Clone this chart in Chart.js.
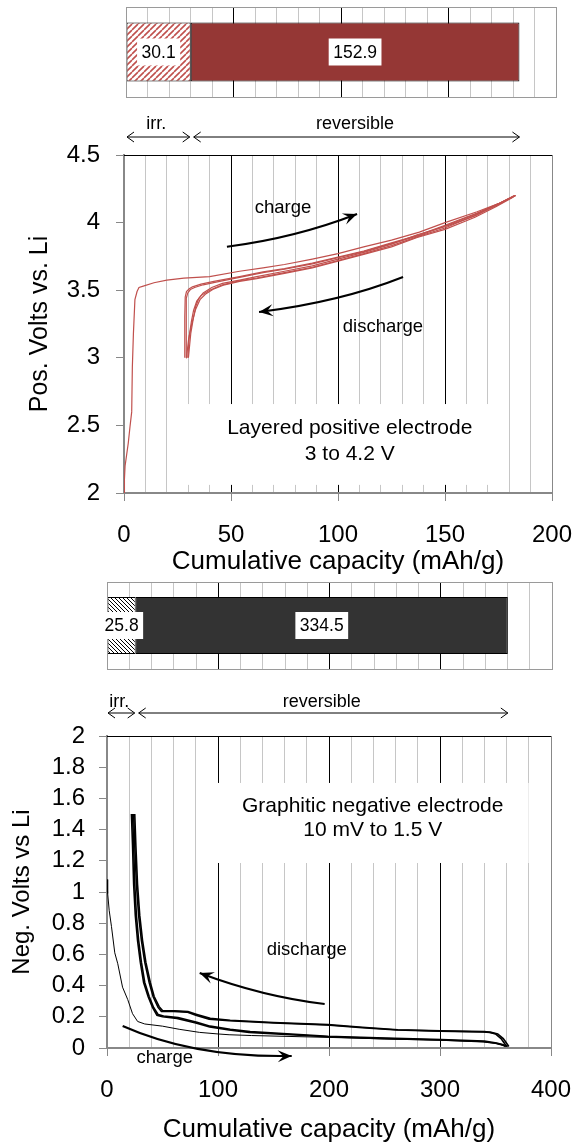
<!DOCTYPE html>
<html>
<head>
<meta charset="utf-8">
<script src="https://cdn.jsdelivr.net/npm/chart.js@4.4.1/dist/chart.umd.min.js"></script>
<style>
  html, body { margin: 0; padding: 0; background: #fff; }
  body { width: 576px; height: 1145px; position: relative; overflow: hidden; }
  .panel { position: absolute; left: 0; width: 576px; }
</style>
</head>
<body>
<div class="panel" style="top:0;height:145px"><canvas id="posBar"></canvas></div>
<div class="panel" style="top:145px;height:435px"><canvas id="posChart"></canvas></div>
<div class="panel" style="top:575px;height:145px"><canvas id="negBar"></canvas></div>
<div class="panel" style="top:720px;height:425px"><canvas id="negChart"></canvas></div>
<script>
const FONT = '"Liberation Sans", Arial, sans-serif';
Chart.defaults.font.family = FONT;
Chart.defaults.color = '#000';

// capacity split, mAh/g
const posIrr = [30.1];
const posRev = [152.9];
const negIrr = [25.8];
const negRev = [334.5];

// tick labels
const posXLabels = [0, 50, 100, 150, 200];
const posYLabels = [2, 2.5, 3, 3.5, 4, 4.5];
const negXLabels = [0, 100, 200, 300, 400];
const negYLabels = [0, 0.2, 0.4, 0.6, 0.8, 1, 1.2, 1.4, 1.6, 1.8, 2];

// positive electrode, first charge
const posC1X = [0, 0.2, 0.5, 2, 2.8, 3.6, 3.9, 4.4, 5.1, 6.1, 7, 9, 14, 20, 28, 40, 54, 65, 75, 88, 100, 112, 125, 138, 150, 165, 175, 183];
const posC1V = [2.0, 2.1, 2.2, 2.37, 2.49, 2.6, 2.93, 3.18, 3.43, 3.49, 3.52, 3.53, 3.555, 3.575, 3.59, 3.6, 3.64, 3.665, 3.69, 3.73, 3.77, 3.82, 3.87, 3.93, 4.0, 4.08, 4.14, 4.2];
// positive discharges
const posD1X = [183, 175, 165, 150, 138, 125, 112, 100, 88, 75, 62, 54, 46, 40, 36, 34, 32.5, 31.5, 30.5, 29.8];
const posD1V = [4.2, 4.14, 4.06, 3.96, 3.9, 3.83, 3.77, 3.72, 3.67, 3.63, 3.59, 3.57, 3.54, 3.5, 3.46, 3.42, 3.35, 3.27, 3.16, 3.0];
const posD2X = [182.5, 174, 164, 150, 137, 125, 112, 100, 88, 75, 62, 54, 46, 41, 37, 35, 33.5, 32.5, 31.2, 30.1];
const posD2V = [4.2, 4.13, 4.05, 3.97, 3.91, 3.84, 3.78, 3.73, 3.68, 3.64, 3.6, 3.575, 3.55, 3.52, 3.48, 3.44, 3.38, 3.3, 3.18, 3.0];
const posD3X = [182, 174, 164, 150, 137, 125, 112, 100, 88, 75, 62, 54, 47, 42, 38, 35.5, 33.5, 31.8, 30.2, 29.2];
const posD3V = [4.19, 4.12, 4.04, 3.95, 3.89, 3.82, 3.765, 3.715, 3.665, 3.625, 3.585, 3.565, 3.54, 3.51, 3.47, 3.43, 3.36, 3.26, 3.14, 3.0];
// positive recharges
const posC2X = [28.4, 28.4, 28.6, 29.2, 30.5, 32, 36, 42, 54, 65, 75, 88, 100, 112, 125, 138, 150, 165, 175, 182.5];
const posC2V = [3.0, 3.3, 3.45, 3.49, 3.51, 3.525, 3.545, 3.565, 3.6, 3.635, 3.66, 3.7, 3.745, 3.79, 3.85, 3.91, 3.98, 4.07, 4.14, 4.2];
const posC3X = [29.0, 29.0, 29.2, 29.8, 31, 33, 37, 43, 54, 65, 75, 88, 100, 112, 125, 138, 150, 165, 175, 183];
const posC3V = [3.0, 3.3, 3.44, 3.48, 3.505, 3.52, 3.54, 3.56, 3.595, 3.63, 3.655, 3.695, 3.74, 3.785, 3.845, 3.905, 3.975, 4.065, 4.135, 4.2];

// negative electrode, first charge
const negC1X = [0, 0.6, 2, 4, 7, 9.7, 14, 18.7, 23, 27.6, 34, 50, 65, 83.5, 100, 110, 130, 200, 250, 300, 339, 350, 356, 360];
const negC1V = [1.08, 0.99, 0.88, 0.78, 0.61, 0.54, 0.39, 0.31, 0.22, 0.17, 0.154, 0.14, 0.12, 0.1, 0.09, 0.085, 0.08, 0.068, 0.058, 0.05, 0.04, 0.03, 0.02, 0.01];
// negative discharges
const negD1X = [360, 358, 355, 350, 345, 339, 300, 261, 230, 198, 150, 110, 92, 80, 72, 60, 49, 46, 41.5, 38, 34, 31, 28.5, 26.5, 25, 24];
const negD1V = [0.01, 0.03, 0.06, 0.09, 0.1, 0.103, 0.108, 0.115, 0.13, 0.147, 0.16, 0.175, 0.185, 0.21, 0.23, 0.235, 0.235, 0.26, 0.33, 0.42, 0.55, 0.69, 0.85, 1.05, 1.3, 1.5];
const negD2X = [362, 360, 357, 352, 346, 340, 300, 262, 230, 199, 150, 111, 93, 81, 73, 61, 50, 47, 42.5, 39, 35, 32, 29.5, 27.5, 26, 25];
const negD2V = [0.01, 0.03, 0.06, 0.09, 0.1, 0.105, 0.11, 0.117, 0.133, 0.15, 0.163, 0.178, 0.19, 0.215, 0.233, 0.238, 0.24, 0.265, 0.33, 0.42, 0.55, 0.69, 0.85, 1.05, 1.3, 1.5];
// negative recharges
const negC2X = [22, 23, 24, 25.5, 27.5, 30, 33, 37, 41, 45, 50, 63, 80, 92.5, 110, 128, 198, 250, 300, 339, 350, 356, 359];
const negC2V = [1.5, 1.3, 1.05, 0.85, 0.69, 0.55, 0.42, 0.33, 0.26, 0.21, 0.2, 0.19, 0.16, 0.135, 0.115, 0.1, 0.072, 0.06, 0.051, 0.04, 0.03, 0.02, 0.01];
const negC3X = [23, 24, 25, 26.5, 28.5, 31, 34, 38, 42, 46, 51, 64, 81, 93, 111, 129, 199, 251, 301, 340, 351, 357, 361];
const negC3V = [1.5, 1.3, 1.05, 0.85, 0.69, 0.55, 0.42, 0.33, 0.26, 0.215, 0.205, 0.195, 0.165, 0.14, 0.12, 0.105, 0.075, 0.063, 0.054, 0.045, 0.032, 0.02, 0.01];

function hatch(color, size, forward, lw) {
    const c = document.createElement('canvas');
    c.width = c.height = size;
    const g = c.getContext('2d');
    g.fillStyle = '#fff';
    g.fillRect(0, 0, size, size);
    g.strokeStyle = color;
    g.lineWidth = lw;
    g.beginPath();
    for (let k = -1; k <= 1; k++) {
        if (forward) { g.moveTo(k * size, size); g.lineTo(k * size + size, 0); }
        else { g.moveTo(k * size, 0); g.lineTo(k * size + size, size); }
    }
    g.stroke();
    return g.createPattern(c, 'repeat');
}

function arrowHead(ctx, x, y, ang, len, half) {
    ctx.save();
    ctx.translate(x, y);
    ctx.rotate(ang);
    ctx.beginPath();
    ctx.moveTo(0, 0);
    ctx.lineTo(-len, -half);
    ctx.lineTo(-len * 0.6, 0);
    ctx.lineTo(-len, half);
    ctx.closePath();
    ctx.fill();
    ctx.restore();
}

function curvedArrow(ctx, p0, pc, p1) {
    ctx.beginPath();
    ctx.moveTo(p0[0], p0[1]);
    ctx.quadraticCurveTo(pc[0], pc[1], p1[0], p1[1]);
    ctx.stroke();
    arrowHead(ctx, p1[0], p1[1], Math.atan2(p1[1] - pc[1], p1[0] - pc[0]), 14, 6);
}

function doubleArrow(ctx, x1, x2, y) {
    ctx.beginPath();
    ctx.moveTo(x1, y); ctx.lineTo(x2, y);
    ctx.moveTo(x1 + 7, y - 5); ctx.lineTo(x1, y); ctx.lineTo(x1 + 7, y + 5);
    ctx.moveTo(x2 - 7, y - 5); ctx.lineTo(x2, y); ctx.lineTo(x2 - 7, y + 5);
    ctx.stroke();
}

function gridColor(v, major, max, edge) {
    if (v === 0) return edge;
    if (v === max) return edge || '#000';
    return v % major === 0 ? '#000' : '#c6c6c6';
}

function barPanel(id, irr, rev, o) {
    const el = document.getElementById(id);
    const decor = {
        id: 'barDecor',
        afterDraw(chart) {
            const { ctx, chartArea: a, scales: { x } } = chart;
            ctx.save();
            ctx.strokeStyle = '#9a9a9a';
            ctx.lineWidth = 1;
            ctx.strokeRect(Math.round(a.left) + 0.5, Math.round(a.top) + 0.5, Math.round(a.right - a.left), Math.round(a.bottom - a.top));
            ctx.font = '17.5px ' + FONT;
            ctx.textAlign = 'center';
            ctx.textBaseline = 'middle';
            chart.data.datasets.forEach((ds, i) => {
                const bar = chart.getDatasetMeta(i).data[0];
                const cx = (bar.x + bar.base) / 2;
                const txt = String(ds.data[0]);
                const w = ctx.measureText(txt).width + 9;
                ctx.fillStyle = '#fff';
                ctx.fillRect(cx - w / 2, bar.y - 13.5, w, 27);
                ctx.fillStyle = '#000';
                ctx.fillText(txt, cx, bar.y + 1);
            });
            // irreversible / reversible ranges
            const xi = x.getPixelForValue(irr[0]);
            const xr = x.getPixelForValue(irr[0] + rev[0]);
            const x0 = x.getPixelForValue(0);
            const ay = a.bottom + o.arrowGap;
            ctx.strokeStyle = '#000';
            ctx.lineWidth = 1;
            doubleArrow(ctx, x0 + 1, xi - 1, ay);
            doubleArrow(ctx, xi + 3, xr, ay);
            ctx.font = '18px ' + FONT;
            ctx.fillText('irr.', (x0 + xi) / 2 - 2, a.bottom + o.textGap);
            ctx.fillText('reversible', (xi + xr) / 2, a.bottom + o.textGap);
            ctx.restore();
        }
    };
    return new Chart(el, {
        type: 'bar',
        data: {
            labels: [''],
            datasets: [
                { data: irr, backgroundColor: o.hatch, borderColor: '#000', borderWidth: 1, borderSkipped: false, barPercentage: 0.656, categoryPercentage: 1 },
                { data: rev, backgroundColor: o.fill, borderColor: '#000', borderWidth: 1, borderSkipped: false, barPercentage: 0.656, categoryPercentage: 1 }
            ]
        },
        options: {
            indexAxis: 'y',
            responsive: true,
            maintainAspectRatio: false,
            animation: false,
            layout: { padding: o.pad },
            plugins: { legend: { display: false }, tooltip: { enabled: false } },
            scales: {
                x: {
                    stacked: true, min: 0, max: o.max,
                    ticks: { display: false, stepSize: o.minor, autoSkip: false },
                    grid: { drawTicks: false, color: c => gridColor(c.tick ? c.tick.value : 0, o.major, o.max, '#9a9a9a') },
                    border: { display: false },
                    afterFit: s => { s.height = 0; s.paddingLeft = 0; s.paddingRight = 0; }
                },
                y: { stacked: true, display: false }
            }
        },
        plugins: [decor]
    });
}

function pts(xs, ys) {
    return xs.map((v, i) => ({ x: v, y: ys[i] }));
}

function voltPanel(id, series, o) {
    const el = document.getElementById(id);
    const decor = {
        id: 'voltDecor',
        beforeDatasetsDraw(chart) {
            const { ctx, scales: { x, y } } = chart;
            ctx.save();
            const L = x.getPixelForValue(o.box.x[0]), R = x.getPixelForValue(o.box.x[1]);
            const T = y.getPixelForValue(o.box.y[0]), B = y.getPixelForValue(o.box.y[1]);
            ctx.fillStyle = '#fff';
            ctx.fillRect(L, T, R - L, B - T);
            ctx.fillStyle = '#000';
            ctx.font = '21px ' + FONT;
            ctx.textAlign = 'center';
            ctx.textBaseline = 'middle';
            o.box.text.forEach((t, i) => ctx.fillText(t, x.getPixelForValue(o.box.tx), y.getPixelForValue(o.box.ty[i])));
            ctx.restore();
        },
        afterDraw(chart) {
            const { ctx, chartArea: a, scales: { x, y } } = chart;
            const P = p => [x.getPixelForValue(p[0]), y.getPixelForValue(p[1])];
            ctx.save();
            ctx.strokeStyle = '#000';
            ctx.lineWidth = 1;
            ctx.beginPath();
            ctx.moveTo(a.left, Math.round(a.top) + 0.5);
            ctx.lineTo(a.right, Math.round(a.top) + 0.5);
            ctx.stroke();
            ctx.fillStyle = '#000';
            ctx.lineWidth = 2;
            o.arrows.forEach(ar => curvedArrow(ctx, P(ar[0]), P(ar[1]), P(ar[2])));
            ctx.font = '18.5px ' + FONT;
            ctx.textAlign = 'center';
            ctx.textBaseline = 'middle';
            o.notes.forEach(n => { const p = P(n.at); ctx.fillText(n.text, p[0], p[1]); });
            ctx.restore();
        }
    };
    const near = (list, v) => list.some(l => Math.abs(l - v) < 1e-6);
    return new Chart(el, {
        type: 'scatter',
        data: {
            datasets: series.map(s => ({
                data: pts(s.x, s.y), showLine: true, borderColor: s.color, borderWidth: s.w,
                pointRadius: 0, fill: false, tension: 0
            }))
        },
        options: {
            responsive: true,
            maintainAspectRatio: false,
            animation: false,
            layout: { padding: { top: o.top, right: o.right, left: 0, bottom: 0 } },
            plugins: { legend: { display: false }, tooltip: { enabled: false } },
            scales: {
                x: {
                    type: 'linear', min: 0, max: o.xMax,
                    ticks: {
                        stepSize: o.xMinor, autoSkip: false, maxRotation: 0, padding: 20,
                        font: { size: 24 },
                        callback: v => near(o.xLabels, v) ? String(v) : ''
                    },
                    grid: {
                        color: c => gridColor(c.tick ? c.tick.value : 0, o.xMajor, o.xMax, '#888'),
                        tickLength: 8,
                        tickColor: c => (c.tick && near(o.xLabels, c.tick.value)) ? '#888' : 'rgba(0,0,0,0)'
                    },
                    border: { color: '#888', width: 2 },
                    title: { display: true, text: 'Cumulative capacity (mAh/g)', font: { size: 26 }, padding: { top: 0, bottom: o.xTitlePad } },
                    afterFit: s => { s.height = o.xAxisH; s.paddingLeft = 0; s.paddingRight = 0; }
                },
                y: {
                    min: o.yMin, max: o.yMax,
                    ticks: {
                        stepSize: o.yStep, autoSkip: false, padding: o.yTickPad,
                        font: { size: 24 },
                        callback: v => near(o.yLabels, v) ? String(Math.round(v * 10) / 10) : ''
                    },
                    grid: { drawOnChartArea: false, tickLength: 8, color: '#888' },
                    border: { color: '#888', width: 2 },
                    title: { display: true, text: o.yTitle, font: { size: o.yTitleSize }, padding: { top: o.yTitlePad, bottom: 0 } },
                    afterFit: s => { s.width = o.yAxisW; s.paddingTop = 0; s.paddingBottom = 0; }
                }
            }
        },
        plugins: [decor]
    });
}

const posRed = '#c0504d';
barPanel('posBar', posIrr, posRev, {
    hatch: hatch(posRed, 6, true, 1.6), fill: '#953735',
    max: 200, minor: 10, major: 50,
    pad: { left: 126, right: 20, top: 7, bottom: 48 },
    arrowGap: 40, textGap: 27
});

voltPanel('posChart', [
    { x: posC1X, y: posC1V, color: posRed, w: 1.2 },
    { x: posD1X, y: posD1V, color: posRed, w: 1.2 },
    { x: posC2X, y: posC2V, color: posRed, w: 1.2 },
    { x: posD2X, y: posD2V, color: posRed, w: 1.2 },
    { x: posC3X, y: posC3V, color: posRed, w: 1.2 },
    { x: posD3X, y: posD3V, color: posRed, w: 1.2 }
], {
    top: 10, right: 24, xAxisH: 87, yAxisW: 124, xTitlePad: 2.4,
    xMax: 200, xMinor: 10, xMajor: 50, xLabels: posXLabels,
    yMin: 2, yMax: 4.5, yStep: 0.5, yLabels: posYLabels, yTickPad: 16,
    yTitle: 'Pos. Volts vs. Li', yTitleSize: 25, yTitlePad: 25,
    box: { x: [29.4, 179.4], y: [2.658, 2.06], tx: 105.5, ty: [2.48, 2.29],
           text: ['Layered positive electrode', '3 to 4.2 V'] },
    arrows: [
        [[48.1, 3.822], [79.9, 3.886], [108.9, 4.064]],
        [[130.4, 3.598], [100.9, 3.413], [63.1, 3.339]]
    ],
    notes: [
        { text: 'charge', at: [74.3, 4.108] },
        { text: 'discharge', at: [121.0, 3.228] }
    ]
});

barPanel('negBar', negIrr, negRev, {
    hatch: hatch('#000', 4, false, 1), fill: '#333333',
    max: 400, minor: 20, major: 100,
    pad: { left: 107, right: 24, top: 7, bottom: 51 },
    arrowGap: 44, textGap: 33
});

voltPanel('negChart', [
    { x: negC1X, y: negC1V, color: '#000', w: 1 },
    { x: negD1X, y: negD1V, color: '#000', w: 1.6 },
    { x: negC2X, y: negC2V, color: '#000', w: 1.6 },
    { x: negD2X, y: negD2V, color: '#000', w: 1.6 },
    { x: negC3X, y: negC3V, color: '#000', w: 1.6 }
], {
    top: 16, right: 25, xAxisH: 97, yAxisW: 107, xTitlePad: 0,
    xMax: 400, xMinor: 20, xMajor: 100, xLabels: negXLabels,
    yMin: 0, yMax: 2, yStep: 0.2, yLabels: negYLabels, yTickPad: 14,
    yTitle: 'Neg. Volts vs Li', yTitleSize: 24, yTitlePad: 7.6,
    box: { x: [80.8, 379.9], y: [1.699, 1.186], tx: 239.4, ty: [1.551, 1.397],
           text: ['Graphitic negative electrode', '10 mV to 1.5 V'] },
    arrows: [
        [[196.1, 0.282], [139.8, 0.330], [83.5, 0.481]],
        [[14.1, 0.141], [79, -0.064], [166.4, -0.051]]
    ],
    notes: [
        { text: 'discharge', at: [180, 0.628] },
        { text: 'charge', at: [52, -0.064] }
    ]
});
</script>
</body>
</html>
